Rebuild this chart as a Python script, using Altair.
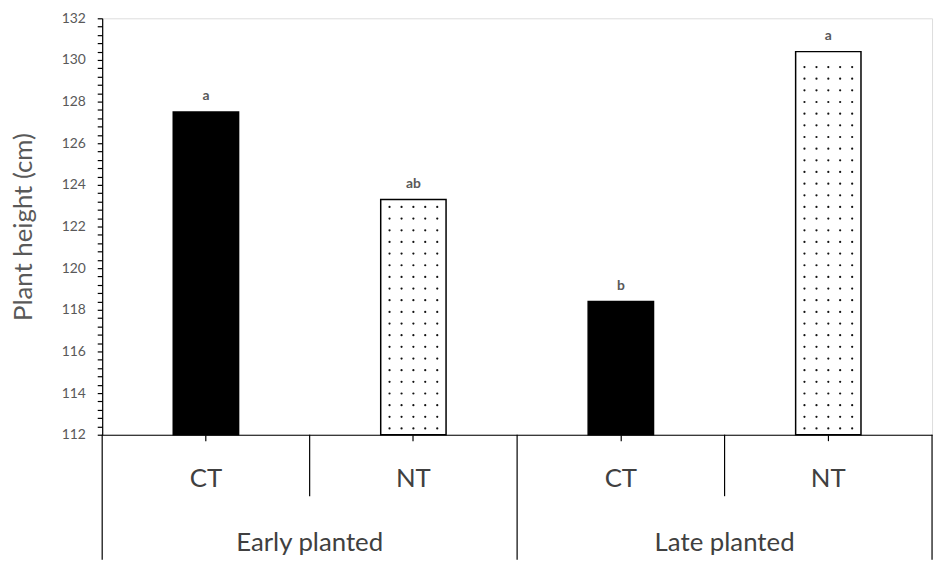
import altair as alt
import pandas as pd

# ---- data ----
GROUPS = ["Early planted", "Early planted", "Late planted", "Late planted"]
TREATMENTS = ["CT", "NT", "CT", "NT"]
PLANT_HEIGHT = [127.5, 123.3, 118.4, 130.4]
LETTERS = ["a", "ab", "b", "a"]
GROUP_NAMES = ["Early planted", "Late planted"]
Y_MIN, Y_MAX = 112, 132
MINOR_STEP = 0.4
LABEL_STEP = 2

# ---- layout / style ----
W, H = 837, 420
FONT = "Lato"
DOT_ROW = 0.56                           # vertical spacing of dot texture (data units)
DOT_COLS = [-0.115, -0.057, 0.0, 0.057, 0.115]  # horizontal dot offsets (category units)

keys = [f"{g}|{t}" for g, t in zip(GROUPS, TREATMENTS)]
df = pd.DataFrame({
    "key": keys, "group": GROUPS, "treat": TREATMENTS,
    "height": PLANT_HEIGHT, "letter": LETTERS, "base": Y_MIN,
})

# dotted texture for the NT bars
dots = []
for i, (t, h) in enumerate(zip(TREATMENTS, PLANT_HEIGHT)):
    if t != "NT":
        continue
    r = 0
    yv = Y_MIN + 0.3
    while yv <= h - 0.2:
        for off in DOT_COLS:
            dots.append({"pos": i + 0.5 + off, "y": yv})
        r += 1
        yv = Y_MIN + 0.3 + r * DOT_ROW
dots_df = pd.DataFrame(dots)

n_ticks = int(round((Y_MAX - Y_MIN) / MINOR_STEP)) + 1
y_ticks = [round(Y_MIN + MINOR_STEP * k, 1) for k in range(n_ticks)]

yscale = alt.Scale(domain=[Y_MIN, Y_MAX], nice=False, zero=False)
xq = alt.Scale(domain=[0, len(keys)], nice=False, zero=False)
xband = alt.Scale(paddingInner=0.685, paddingOuter=0.3425)

Y_AXIS = alt.Axis(
    values=y_ticks, labelOverlap=False, labelFlush=False,
    labelExpr=f"abs(datum.value/{LABEL_STEP} - round(datum.value/{LABEL_STEP})) < 0.01 ? format(datum.value, 'd') : ''",
    labelFontSize=14, labelColor="#595959", labelFont=FONT,
    labelPadding=12, tickSize=5, tickColor="black",
    domainColor="black", domainWidth=1.2, tickWidth=1.2,
    titleFontSize=26, titleColor="#595959", titleFont=FONT,
    titleFontWeight="normal", titlePadding=25, grid=False)

X_AXIS = alt.Axis(
    labelExpr="split(datum.value, '|')[1]", labelAngle=0,
    labelFontSize=26, labelColor="#404040", labelFont=FONT,
    labelBaseline="alphabetic", labelPadding=46,
    tickSize=6, tickColor="black", domainColor="black",
    domainWidth=1.2, tickWidth=1.2, grid=False)

bars = alt.Chart(df).mark_bar(stroke="black", strokeWidth=1.5).encode(
    x=alt.X("key:N", sort=keys, title=None, scale=xband, axis=X_AXIS),
    y=alt.Y("height:Q", scale=yscale, title="Plant height (cm)", axis=Y_AXIS),
    y2="base:Q",
    color=alt.Color("treat:N", scale=alt.Scale(domain=["CT", "NT"], range=["black", "white"]),
                    legend=None),
)

letters = alt.Chart(df).mark_text(baseline="alphabetic", dy=-12, fontSize=14,
                                  color="#595959", font=FONT, fontWeight="bold").encode(
    x=alt.X("key:N", sort=keys, scale=xband, axis=None),
    y=alt.Y("height:Q", scale=yscale, title="Plant height (cm)", axis=Y_AXIS),
    text="letter:N",
)

dot_layer = alt.Chart(dots_df).mark_circle(size=5, color="#111111", opacity=1).encode(
    x=alt.X("pos:Q", scale=xq, axis=None),
    y=alt.Y("y:Q", scale=yscale, title="Plant height (cm)", axis=Y_AXIS),
)

div_df = pd.DataFrame({"pos": list(range(len(keys) + 1))})
long_div = alt.Chart(div_df).transform_filter("datum.pos % 2 == 0").mark_rule(
    color="black", strokeWidth=1.2).encode(
    x=alt.X("pos:Q", scale=xq, axis=None),
    y=alt.value(H), y2=alt.value(H + 126),
)
short_div = alt.Chart(div_df).transform_filter("datum.pos % 2 == 1").mark_rule(
    color="black", strokeWidth=1.2).encode(
    x=alt.X("pos:Q", scale=xq, axis=None),
    y=alt.value(H), y2=alt.value(H + 62),
)

grp_df = pd.DataFrame({"group": GROUP_NAMES, "pos": [1 + 2 * k for k in range(len(GROUP_NAMES))]})
group_text = alt.Chart(grp_df).mark_text(baseline="alphabetic", fontSize=26,
                                         color="#404040", font=FONT).encode(
    x=alt.X("pos:Q", scale=xq, axis=None),
    y=alt.value(H + 117),
    text="group:N",
)

chart = alt.layer(bars, dot_layer, letters, long_div, short_div, group_text).resolve_scale(
    x="independent"
).properties(
    width=W, height=H,
    autosize=alt.AutoSizeParams(type="none"),
    padding={"left": 95, "top": 8, "right": 5, "bottom": 130},
).configure_view(stroke=None).configure(font=FONT)

chart.save("out.html", embed_options={"renderer": "svg", "actions": False})
